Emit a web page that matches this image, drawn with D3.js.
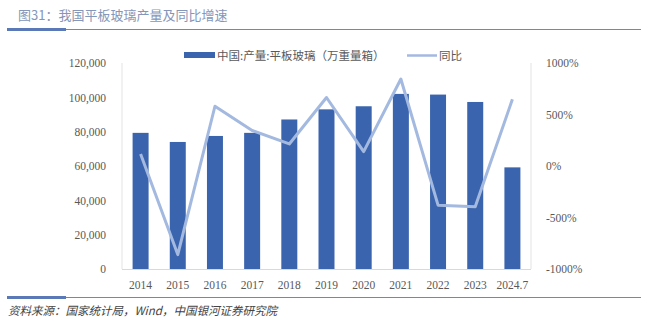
<!DOCTYPE html>
<html><head><meta charset="utf-8">
<script src="https://cdn.jsdelivr.net/npm/d3@7"></script>
<style>
html,body{margin:0;padding:0;background:#fff;}
svg{display:block;}
</style></head>
<body>
<svg id="c" width="648" height="324"></svg>
<script>
const categories = ["2014","2015","2016","2017","2018","2019","2020","2021","2022","2023","2024.7"];
const production = [79300, 74000, 77500, 79300, 87100, 93000, 94800, 102000, 101600, 97300, 59200];
const yoy = [116, -860, 580, 345, 214, 665, 140, 845, -380, -395, 648];
const leftTicks = [0, 20000, 40000, 60000, 80000, 100000, 120000];
const rightTicks = [-1000, -500, 0, 500, 1000];

const svg = d3.select("#c");
const L = 122, R = 531, T = 63, B = 269;
const numFont = "'Liberation Serif', 'Noto Sans CJK SC', serif";
const cjkFont = "'Noto Sans CJK SC', sans-serif";
const txtColor = "#595959";

// Title
svg.append("text").attr("x", 18).attr("y", 20).attr("font-family", cjkFont)
  .attr("font-size", 13).attr("fill", "#8696b8").text("图31：我国平板玻璃产量及同比增速");
svg.append("line").attr("x1", 7).attr("x2", 641).attr("y1", 29.5).attr("y2", 29.5)
  .attr("stroke", "#6e88bd").attr("stroke-width", 1);
svg.append("rect").attr("x", 7).attr("y", 28).attr("width", 59).attr("height", 3).attr("fill", "#5b79b6");

// Footer
svg.append("line").attr("x1", 7).attr("x2", 641).attr("y1", 297.5).attr("y2", 297.5)
  .attr("stroke", "#6e88bd").attr("stroke-width", 1);
svg.append("rect").attr("x", 7).attr("y", 296).attr("width", 59).attr("height", 3).attr("fill", "#5b79b6");
svg.append("text").attr("x", 8).attr("y", 315).attr("font-family", cjkFont)
  .attr("font-size", 11.5).attr("font-style", "italic").attr("fill", "#444")
  .text("资料来源：国家统计局，Wind，中国银河证券研究院");

const x = d3.scaleBand().domain(categories).range([L, R]).paddingInner(0.57).paddingOuter(0.285);
const yL = d3.scaleLinear().domain([0, 120000]).range([B, T]);
const yR = d3.scaleLinear().domain([-1000, 1000]).range([B, T]);

// axes lines
svg.append("line").attr("x1", L).attr("x2", L).attr("y1", T).attr("y2", B).attr("stroke", "#e3e3e3");
svg.append("line").attr("x1", R).attr("x2", R).attr("y1", T).attr("y2", B).attr("stroke", "#e3e3e3");

// left axis
const axL = svg.append("g").attr("transform", `translate(${L - 13},0)`)
  .call(d3.axisLeft(yL).tickValues(leftTicks).tickSize(0).tickFormat(d3.format(",")));
axL.select(".domain").remove();
axL.selectAll("text").attr("font-family", numFont).attr("font-size", 11.5).attr("fill", txtColor);

// right axis
const axR = svg.append("g").attr("transform", `translate(${R + 12},0)`)
  .call(d3.axisRight(yR).tickValues(rightTicks).tickSize(0).tickFormat(d => d + "%"));
axR.select(".domain").remove();
axR.selectAll("text").attr("font-family", numFont).attr("font-size", 11.5).attr("fill", txtColor);

// bars
svg.append("g").selectAll("rect").data(categories).join("rect")
  .attr("x", d => x(d)).attr("width", x.bandwidth())
  .attr("y", (d, i) => yL(production[i])).attr("height", (d, i) => B - yL(production[i]))
  .attr("fill", "#3a64ad");

// x axis
svg.append("line").attr("x1", L).attr("x2", R).attr("y1", B + 0.5).attr("y2", B + 0.5).attr("stroke", "#d9d9d9");
const axX = svg.append("g").attr("transform", `translate(0,${B})`)
  .call(d3.axisBottom(x).tickSize(0).tickPadding(12));
axX.select(".domain").remove();
axX.selectAll("text").attr("font-family", numFont).attr("font-size", 11.5).attr("fill", txtColor);

// line
const line = d3.line().x((d, i) => x(categories[i]) + x.bandwidth() / 2).y(d => yR(d));
svg.append("path").datum(yoy).attr("d", line).attr("fill", "none")
  .attr("stroke", "#a3b9e0").attr("stroke-width", 3).attr("stroke-linejoin", "round");

// legend
svg.append("rect").attr("x", 184).attr("y", 52).attr("width", 31).attr("height", 6).attr("fill", "#3a64ad");
svg.append("text").attr("x", 217).attr("y", 59.5).attr("font-family", cjkFont).attr("font-size", 11.5)
  .attr("fill", txtColor).text("中国:产量:平板玻璃（万重量箱）");
svg.append("line").attr("x1", 407).attr("x2", 437).attr("y1", 55.5).attr("y2", 55.5)
  .attr("stroke", "#a3b9e0").attr("stroke-width", 2.5);
svg.append("text").attr("x", 439).attr("y", 59.5).attr("font-family", cjkFont).attr("font-size", 11.5)
  .attr("fill", txtColor).text("同比");
</script>
</body></html>
